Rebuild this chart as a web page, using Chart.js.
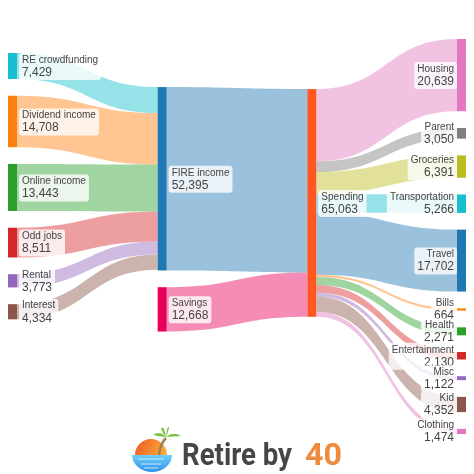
<!DOCTYPE html>
<html>
<head>
<meta charset="utf-8">
<script src="https://cdn.jsdelivr.net/npm/chart.js@4.4.1/dist/chart.umd.min.js"></script>
<style>
  html, body { margin: 0; padding: 0; background: #fff; }
  #wrap { width: 474px; height: 474px; }
</style>
</head>
<body>
<div id="wrap"><canvas id="sankey"></canvas></div>
<script>
// ---- data ----
const nodeNames = ['RE crowdfunding', 'Dividend income', 'Online income', 'Odd jobs', 'Rental', 'Interest',
  'FIRE income', 'Savings', 'Spending',
  'Housing', 'Parent', 'Groceries', 'Transportation', 'Travel', 'Bills', 'Health', 'Entertainment', 'Misc', 'Kid', 'Clothing'];
const nodeColumn = [0, 0, 0, 0, 0, 0, 1, 1, 2, 3, 3, 3, 3, 3, 3, 3, 3, 3, 3, 3];
const nodeColors = ['#17becf', '#ff7f0e', '#2ca02c', '#d62728', '#9467bd', '#8c564b',
  '#1f77b4', '#e6005c', '#ff5722',
  '#e377c2', '#7f7f7f', '#bcbd22', '#17becf', '#1f77b4', '#ff7f0e', '#2ca02c', '#d62728', '#9467bd', '#8c564b', '#e377c2'];

const linkSource = [0, 1, 2, 3, 4, 5, 6, 7, 8, 8, 8, 8, 8, 8, 8, 8, 8, 8, 8];
const linkTarget = [6, 6, 6, 6, 6, 6, 8, 8, 9, 10, 11, 12, 13, 14, 15, 16, 17, 18, 19];
const linkValues = [7429, 14708, 13443, 8511, 3773, 4334, 52395, 12668,
  20639, 3050, 6391, 5266, 17702, 664, 2271, 2130, 1122, 4352, 1474];

// top of each column (value units) and padding between nodes
const columnOffset = [4000, 13740, 14310, 0];
const NODE_GAP = 4780;
const NODE_W = 9;

// ---- layout in value units ----
function layoutSankey() {
  let n = nodeNames.length;
  let inSum = Array(n).fill(0), outSum = Array(n).fill(0);
  linkValues.forEach((v, i) => { outSum[linkSource[i]] += v; inSum[linkTarget[i]] += v; });
  let value = nodeNames.map((_, i) => Math.max(inSum[i], outSum[i]));
  let cursor = columnOffset.slice();
  let y0 = [];
  nodeNames.forEach((_, i) => {
    let c = nodeColumn[i];
    y0[i] = cursor[c];
    cursor[c] += value[i] + NODE_GAP;
  });
  let yMax = Math.max(...cursor) - NODE_GAP;
  return { value, y0, yMax };
}
const layout = layoutSankey();

function withAlpha(hex, a) {
  let r = parseInt(hex.slice(1, 3), 16), g = parseInt(hex.slice(3, 5), 16), b = parseInt(hex.slice(5, 7), 16);
  return 'rgba(' + r + ',' + g + ',' + b + ',' + a + ')';
}

function roundRect(ctx, x, y, w, h, r) {
  ctx.beginPath();
  ctx.moveTo(x + r, y);
  ctx.arcTo(x + w, y, x + w, y + h, r);
  ctx.arcTo(x + w, y + h, x, y + h, r);
  ctx.arcTo(x, y + h, x, y, r);
  ctx.arcTo(x, y, x + w, y, r);
  ctx.closePath();
}

function drawLogo(ctx) {
  const cx = 152, cy = 455;
  // sun
  let g = ctx.createLinearGradient(136, 440, 166, 455);
  g.addColorStop(0, '#f05a22');
  g.addColorStop(1, '#fbb040');
  ctx.fillStyle = g;
  ctx.beginPath();
  ctx.arc(cx - 1, cy, 16, Math.PI, 0);
  ctx.closePath();
  ctx.fill();
  // water
  g = ctx.createLinearGradient(0, cy, 0, cy + 18);
  g.addColorStop(0, '#6fd0f7');
  g.addColorStop(1, '#2b8fe6');
  ctx.fillStyle = g;
  ctx.beginPath();
  ctx.ellipse(cx, cy, 20, 17, 0, 0, Math.PI);
  ctx.closePath();
  ctx.fill();
  ctx.strokeStyle = 'rgba(255,255,255,0.7)';
  ctx.lineWidth = 1;
  [459, 464, 468].forEach((yy, k) => {
    ctx.beginPath();
    ctx.moveTo(cx - 14 + k * 3, yy);
    ctx.lineTo(cx + 12 - k * 3, yy);
    ctx.stroke();
  });
  // palm trunk
  ctx.strokeStyle = '#a0814f';
  ctx.lineWidth = 2.5;
  ctx.beginPath();
  ctx.moveTo(159, 455);
  ctx.quadraticCurveTo(160, 444, 166, 438);
  ctx.stroke();
  // leaves
  ctx.fillStyle = '#7cc242';
  const leaves = [[-13, -2], [-10, 7], [15, -1], [13, 8], [3, -9], [-5, -8]];
  leaves.forEach(([dx, dy]) => {
    ctx.beginPath();
    ctx.moveTo(166, 437);
    ctx.quadraticCurveTo(166 + dx * 0.5, 437 + dy - 5, 166 + dx, 437 + dy);
    ctx.quadraticCurveTo(166 + dx * 0.5, 437 + dy * 0.3, 166, 437);
    ctx.fill();
  });
  // text
  ctx.textBaseline = 'alphabetic';
  ctx.textAlign = 'left';
  ctx.font = 'bold 31px Roboto, "Liberation Sans", sans-serif';
  let w1 = ctx.measureText('Retire by').width;
  ctx.save();
  ctx.translate(182, 465);
  ctx.scale(110 / w1, 1);
  ctx.fillStyle = '#464646';
  ctx.fillText('Retire by', 0, 0);
  ctx.restore();
  let w2 = ctx.measureText('40').width;
  ctx.save();
  ctx.translate(305, 465);
  ctx.scale(37 / w2, 1);
  ctx.fillStyle = '#f08a3c';
  ctx.fillText('40', 0, 0);
  ctx.restore();
}

const sankeyPlugin = {
  id: 'sankeyPlugin',
  afterDraw(chart) {
    const ctx = chart.ctx;
    const xs = chart.scales.x, ys = chart.scales.y;
    const srcOff = layout.y0.slice(), tgtOff = layout.y0.slice();

    // links
    linkValues.forEach((v, i) => {
      let s = linkSource[i], t = linkTarget[i];
      let x0 = xs.getPixelForValue(nodeColumn[s]) + NODE_W;
      let x1 = xs.getPixelForValue(nodeColumn[t]);
      let xm = (x0 + x1) / 2;
      let a0 = ys.getPixelForValue(srcOff[s]), a1 = ys.getPixelForValue(srcOff[s] + v);
      let b0 = ys.getPixelForValue(tgtOff[t]), b1 = ys.getPixelForValue(tgtOff[t] + v);
      srcOff[s] += v;
      tgtOff[t] += v;
      let col = nodeColumn[t] === 3 ? nodeColors[t] : nodeColors[s];
      ctx.fillStyle = withAlpha(col, 0.45);
      ctx.beginPath();
      ctx.moveTo(x0, a0);
      ctx.bezierCurveTo(xm, a0, xm, b0, x1, b0);
      ctx.lineTo(x1, b1);
      ctx.bezierCurveTo(xm, b1, xm, a1, x0, a1);
      ctx.closePath();
      ctx.fill();
    });

    // nodes
    nodeNames.forEach((name, i) => {
      let x = xs.getPixelForValue(nodeColumn[i]);
      let top = ys.getPixelForValue(layout.y0[i]);
      let bot = ys.getPixelForValue(layout.y0[i] + layout.value[i]);
      ctx.fillStyle = nodeColors[i];
      ctx.fillRect(x, top, NODE_W, Math.max(bot - top, 1.5));
    });

    // labels
    const nameFont = '10px "Liberation Sans", Arial, sans-serif';
    const valFont = '12px "Liberation Sans", Arial, sans-serif';
    nodeNames.forEach((name, i) => {
      let x = xs.getPixelForValue(nodeColumn[i]);
      let top = ys.getPixelForValue(layout.y0[i]);
      let bot = ys.getPixelForValue(layout.y0[i] + layout.value[i]);
      let cy = (top + bot) / 2;
      let valText = layout.value[i].toLocaleString('en-US');
      ctx.font = nameFont;
      let w = ctx.measureText(name).width;
      ctx.font = valFont;
      w = Math.max(w, ctx.measureText(valText).width);
      let right = nodeColumn[i] === 3;
      let tx = right ? x - 3 : x + NODE_W + 5;
      let bx = right ? tx - w - 3 : tx - 3;
      ctx.fillStyle = 'rgba(255,255,255,0.8)';
      roundRect(ctx, bx, cy - 13, w + 6, 27, 3);
      ctx.fill();
      ctx.fillStyle = '#444';
      ctx.textAlign = right ? 'right' : 'left';
      ctx.textBaseline = 'middle';
      ctx.font = nameFont;
      ctx.fillText(name, tx, cy - 6);
      ctx.font = valFont;
      ctx.fillText(valText, tx, cy + 6.5);
    });

    drawLogo(ctx);
  }
};

new Chart(document.getElementById('sankey'), {
  type: 'scatter',
  data: { datasets: [] },
  options: {
    responsive: true, maintainAspectRatio: false, animation: false,
    layout: { padding: { left: 8, right: 17, top: 39, bottom: 40 } },
    plugins: { legend: { display: false }, tooltip: { enabled: false } },
    scales: {
      x: { type: 'linear', min: 0, max: 3, display: false },
      y: { type: 'linear', min: 0, max: layout.yMax, reverse: true, display: false }
    }
  },
  plugins: [sankeyPlugin]
});
</script>
</body>
</html>
